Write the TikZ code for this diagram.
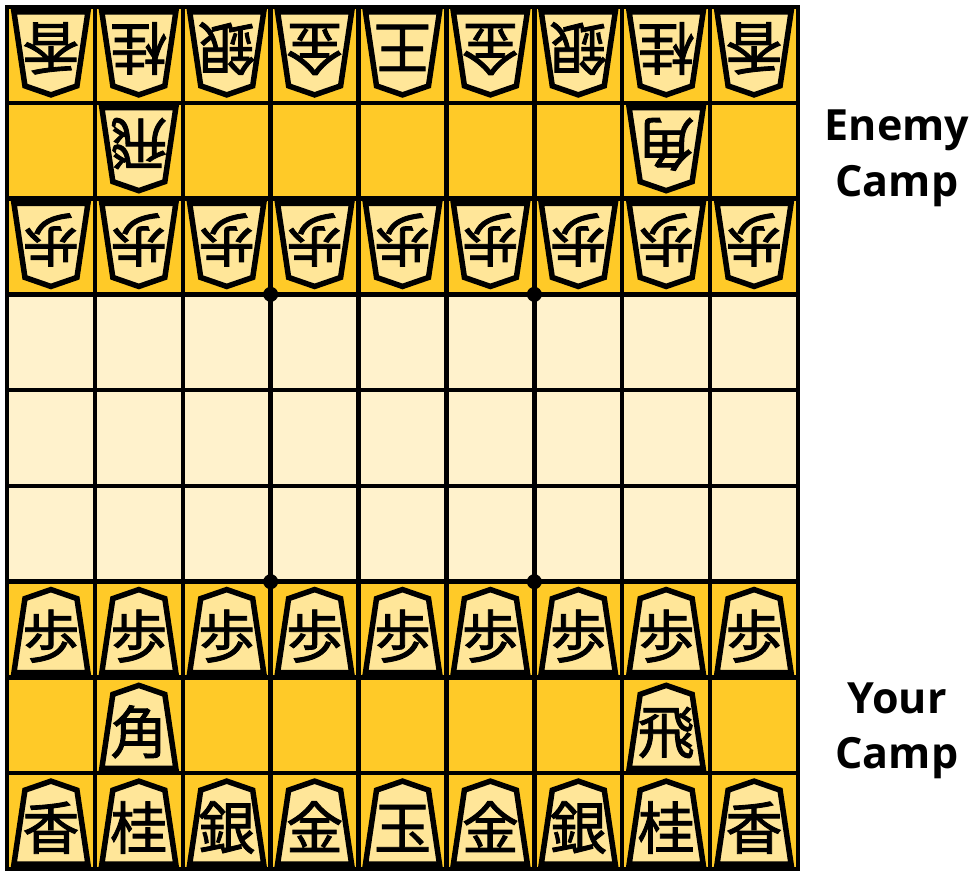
\documentclass[tikz,border=0pt]{standalone}
\usepackage{fontspec}
\newfontfamily\jpfont[FakeBold=1.5]{Noto Sans CJK JP}
\newfontfamily\labfont{Open Sans}
\definecolor{boardY}{HTML}{FFCA28}
\definecolor{boardC}{HTML}{FFF2CC}
\definecolor{pieceF}{HTML}{FFE699}
\newcommand{\shogipiece}[4]{%
  \begin{scope}[shift={({7+(#1+0.5)*87.89},{7+(#2+0.5)*95.78})}, rotate=#3]
    \draw[piecebody] (-37,43) -- (-26,-31) -- (0,-40) -- (26,-31) -- (37,43) -- cycle;
    \node[kanji, rotate=#3] (p-#1-#2) at (0,28) {#4};
  \end{scope}}
\begin{document}
\begin{tikzpicture}[x=1pt,y=-1pt,
  gridline/.style={line width=4.5pt, line cap=rect},
  piecebody/.style={draw=black, fill=pieceF, line width=5.5pt, line join=miter},
  kanji/.style={font=\jpfont\fontsize{57}{57}\selectfont, inner sep=0pt, anchor=base},
  camp/.style={font=\labfont\bfseries\fontsize{43}{43}\selectfont, inner sep=0pt, anchor=base},
  star/.style={circle, fill=black, inner sep=0pt, minimum size=15pt}]
\useasboundingbox (0,0) rectangle (977,872);
\fill[white] (0,0) rectangle (977,872);
\fill[boardY] (7,7) rectangle (798,{7+3*95.78});
\fill[boardC] (7,{7+3*95.78}) rectangle (798,{7+6*95.78});
\fill[boardY] (7,{7+6*95.78}) rectangle (798,869);
\foreach \i in {0,...,9} {
  \draw[gridline] ({7+\i*87.89},7) -- ({7+\i*87.89},869);
  \draw[gridline] (7,{7+\i*95.78}) -- (798,{7+\i*95.78});
}
\node[star] (s1) at ({7+3*87.89},{7+3*95.78}) {};
\node[star] (s2) at ({7+6*87.89},{7+3*95.78}) {};
\node[star] (s3) at ({7+3*87.89},{7+6*95.78}) {};
\node[star] (s4) at ({7+6*87.89},{7+6*95.78}) {};
% enemy
\foreach \c/\k in {0/香,1/桂,2/銀,3/金,4/王,5/金,6/銀,7/桂,8/香} {\shogipiece{\c}{0}{180}{\k}}
\shogipiece{1}{1}{180}{飛}
\shogipiece{7}{1}{180}{角}
\foreach \c in {0,...,8} {\shogipiece{\c}{2}{180}{歩}}
% yours
\foreach \c in {0,...,8} {\shogipiece{\c}{6}{0}{歩}}
\shogipiece{1}{7}{0}{角}
\shogipiece{7}{7}{0}{飛}
\foreach \c/\k in {0/香,1/桂,2/銀,3/金,4/玉,5/金,6/銀,7/桂,8/香} {\shogipiece{\c}{8}{0}{\k}}
% labels
\node[camp] (e1) at (897,140) {Enemy};
\node[camp] (e2) at (897,196) {Camp};
\node[camp] (y1) at (897,713) {Your};
\node[camp] (y2) at (897,768) {Camp};
\end{tikzpicture}
\end{document}
